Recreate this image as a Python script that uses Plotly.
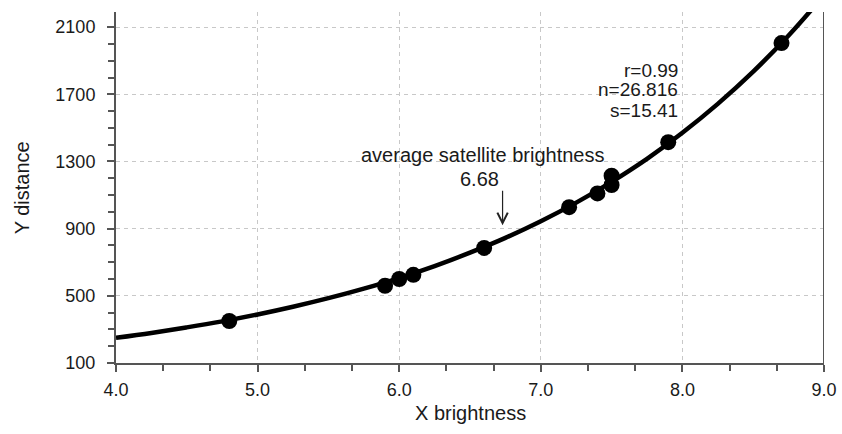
import plotly.graph_objects as go

# Fitted curve
curve_x = [4.0, 4.25, 4.5, 4.75, 5.0, 5.25, 5.5, 5.75, 6.0, 6.25, 6.5, 6.75,
           7.0, 7.25, 7.5, 7.75, 8.0, 8.25, 8.5, 8.75, 9.0]
curve_y = [250, 279, 312, 348, 389, 435, 486, 543, 606, 677, 757, 845,
           944, 1055, 1179, 1316, 1471, 1643, 1835, 2050, 2290]

# Observed points
point_x = [4.8, 5.9, 6.0, 6.1, 6.6, 7.2, 7.4, 7.5, 7.5, 7.9, 8.7]
point_y = [350, 560, 600, 625, 785, 1028, 1110, 1160, 1215, 1415, 2005]

x_ticks = [4.0, 5.0, 6.0, 7.0, 8.0, 9.0]
x_tick_labels = ["4.0", "5.0", "6.0", "7.0", "8.0", "9.0"]
y_ticks = [100, 500, 900, 1300, 1700, 2100]
y_tick_labels = ["100", "500", "900", "1300", "1700", "2100"]

avg_brightness = 6.68
avg_arrow_x = 6.73
stats = ["r=0.99", "n=26.816", "s=15.41"]
stats_y = [1843, 1730, 1605]

FONT = "Liberation Sans, Arial, sans-serif"
AXC = "#555555"

fig = go.Figure()
fig.add_trace(go.Scatter(x=curve_x, y=curve_y, mode="lines",
                         line=dict(color="black", width=4.5, shape="spline"),
                         hoverinfo="skip", showlegend=False))
fig.add_trace(go.Scatter(x=point_x, y=point_y, mode="markers",
                         marker=dict(color="black", size=16, symbol="circle"),
                         showlegend=False))

fig.update_layout(
    width=842, height=434,
    margin=dict(l=116, r=18, t=12, b=71, autoexpand=False),
    paper_bgcolor="white", plot_bgcolor="white",
    font=dict(family=FONT, color="#1a1a1a", size=18),
    showlegend=False,
)
fig.update_xaxes(
    range=[4.0, 9.0], tickvals=x_ticks, ticktext=x_tick_labels,
    showline=True, linecolor=AXC, linewidth=2, automargin=False,
    ticks="outside", ticklen=7, tickwidth=2, tickcolor=AXC,
    showgrid=True, gridcolor="#c8c8c8", griddash="4px,4px", gridwidth=1,
    minor=dict(dtick=1/3, tick0=4.0, ticks="outside", ticklen=6, tickwidth=1.5,
               tickcolor=AXC, showgrid=False),
    zeroline=False, tickfont=dict(size=18), ticklabelstandoff=2,
)
fig.update_yaxes(
    range=[100, 2190], tickvals=y_ticks, ticktext=y_tick_labels,
    showline=True, linecolor=AXC, linewidth=2, automargin=False,
    ticks="outside", ticklen=7, tickwidth=2, tickcolor=AXC,
    showgrid=True, gridcolor="#c8c8c8", griddash="4px,4px", gridwidth=1,
    minor=dict(dtick=100, tick0=100, ticks="outside", ticklen=6, tickwidth=1.5,
               tickcolor=AXC, showgrid=False),
    zeroline=False, tickfont=dict(size=18), ticklabelstandoff=8,
)

# right frame line
fig.add_shape(type="line", xref="x", yref="paper", x0=9.0, x1=9.0, y0=-0.02, y1=1.0,
              line=dict(color=AXC, width=2))

# axis titles
fig.add_annotation(text="X brightness", xref="paper", yref="paper", x=0.5, y=-0.105,
                   yanchor="top", showarrow=False, font=dict(size=20))
fig.add_annotation(text="Y distance", xref="paper", yref="paper", x=-0.133, y=0.5,
                   xanchor="center", yanchor="middle",
                   textangle=-90, showarrow=False, font=dict(size=20))

# average brightness annotation
fig.add_annotation(text="average satellite brightness", x=6.59, y=1338, xref="x", yref="y",
                   showarrow=False, font=dict(size=20))
fig.add_annotation(text=f"{avg_brightness:.2f}", x=6.57, y=1195, xref="x", yref="y",
                   showarrow=False, font=dict(size=20))
fig.add_annotation(text="", x=avg_arrow_x, y=920, xref="x", yref="y",
                   ax=0, ay=-36, axref="pixel", ayref="pixel",
                   showarrow=True, arrowhead=5, arrowsize=1.7, arrowwidth=1.2,
                   arrowcolor="#222222", standoff=0)

# stats
for s, yv in zip(stats, stats_y):
    fig.add_annotation(text=s, x=7.98, y=yv, xref="x", yref="y",
                       xanchor="right", showarrow=False, font=dict(size=19))

fig.write_html("out.html", config={"displayModeBar": False},
               post_script="document.body.style.margin='0';document.body.style.padding='0';")
